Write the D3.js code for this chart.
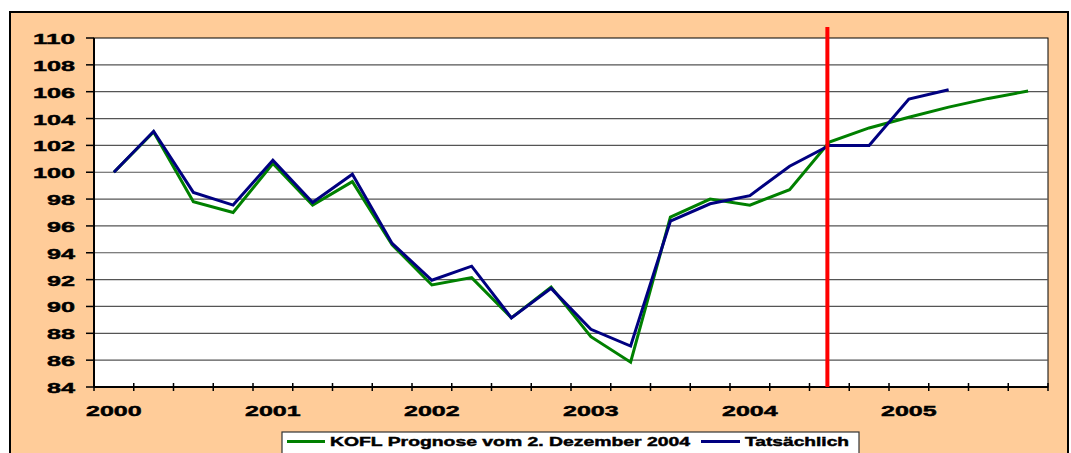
<!DOCTYPE html>
<html>
<head>
<meta charset="utf-8">
<script src="https://cdn.jsdelivr.net/npm/d3@7"></script>
<style>
  body { margin: 0; background: #fff; }
  text { font-family: "Liberation Sans", Arial, sans-serif; font-weight: bold; fill: #000; stroke: #000; stroke-width: 0.45px; }
</style>
</head>
<body>
<svg id="chart"></svg>
<script>
// quarters 2000Q1 .. 2005Q4
const years = ["2000", "2001", "2002", "2003", "2004", "2005"];
const quarters = years.flatMap(y => ["Q1", "Q2", "Q3", "Q4"].map(q => y + q));
const yTicks = [84, 86, 88, 90, 92, 94, 96, 98, 100, 102, 104, 106, 108, 110];

// KOFL forecast of 2 Dec 2004 (green)
const prognose = [100, 103, 97.8, 97.0, 100.65, 97.55, 99.3, 94.6, 91.6, 92.15, 89.15, 91.45,
                  87.75, 85.85, 96.65, 98.0, 97.55, 98.7, 102.25, 103.3, 104.1, 104.85, 105.5, 106.05];
// actual values (navy)
const tatsaechlich = [100, 103.05, 98.5, 97.55, 100.9, 97.75, 99.85, 94.7, 91.95, 93.0, 89.15, 91.35,
                      88.3, 87.05, 96.35, 97.65, 98.25, 100.45, 102.0, 102.0, 105.45, 106.15];
// forecast date marker (quarter index)
const markerQuarter = "2004Q3";

const seriesNames = ["KOFL Prognose vom 2. Dezember 2004", "Tatsächlich"];
const seriesColors = ["#008000", "#000080"];

const width = 1071, height = 453;
const plot = { left: 94, right: 1048, top: 38, bottom: 387 };

const svg = d3.select("#chart").attr("width", width).attr("height", height);

// outer frame
svg.append("rect")
    .attr("x", 10).attr("y", 12)
    .attr("width", 1058).attr("height", 470)
    .attr("fill", "#FFCC99")
    .attr("stroke", "#000").attr("stroke-width", 2);

const x = d3.scaleBand().domain(quarters).range([plot.left, plot.right]).padding(0);
const y = d3.scaleLinear().domain([84, 110]).range([plot.bottom, plot.top]);
const cx = q => x(q) + x.bandwidth() / 2;

// plot area
svg.append("rect")
    .attr("x", plot.left).attr("y", plot.top)
    .attr("width", plot.right - plot.left).attr("height", plot.bottom - plot.top)
    .attr("fill", "#fff")
    .attr("stroke", "#000").attr("stroke-width", 1);

// gridlines
svg.append("g").selectAll("line")
    .data(yTicks.filter(v => v > 84 && v < 110))
    .join("line")
    .attr("x1", plot.left).attr("x2", plot.right)
    .attr("y1", d => y(d)).attr("y2", d => y(d))
    .attr("stroke", "#555").attr("stroke-width", 1.2);

// y axis ticks + labels
const yAxis = svg.append("g");
yAxis.selectAll("line")
    .data(yTicks).join("line")
    .attr("x1", plot.left - 8).attr("x2", plot.left)
    .attr("y1", d => y(d)).attr("y2", d => y(d))
    .attr("stroke", "#000").attr("stroke-width", 1.5);
yAxis.selectAll("text")
    .data(yTicks).join("text")
    .attr("x", 75).attr("y", d => y(d) + 6)
    .attr("text-anchor", "end")
    .style("font-size", "15px")
    .attr("textLength", d => String(d).length * 14)
    .attr("lengthAdjust", "spacingAndGlyphs")
    .text(d => d);

// x axis ticks at quarter boundaries
const bounds = quarters.map(q => x(q)).concat([plot.right]);
svg.append("g").selectAll("line")
    .data(bounds).join("line")
    .attr("x1", d => d).attr("x2", d => d)
    .attr("y1", plot.bottom - 4).attr("y2", plot.bottom + 4)
    .attr("stroke", "#000").attr("stroke-width", 1.5);

// year labels under each Q1
svg.append("g").selectAll("text")
    .data(quarters.filter(q => q.endsWith("Q1")))
    .join("text")
    .attr("x", d => cx(d) - 27.8).attr("y", 415.5)
    .style("font-size", "15px")
    .attr("textLength", 55.6)
    .attr("lengthAdjust", "spacingAndGlyphs")
    .text(d => d.slice(0, 4));

// axis lines
svg.append("line")
    .attr("x1", plot.left).attr("x2", plot.left)
    .attr("y1", plot.top).attr("y2", plot.bottom)
    .attr("stroke", "#000").attr("stroke-width", 2);
svg.append("line")
    .attr("x1", plot.left).attr("x2", plot.right)
    .attr("y1", plot.bottom).attr("y2", plot.bottom)
    .attr("stroke", "#000").attr("stroke-width", 2);

// series lines
const line = d3.line()
    .x((d, i) => cx(quarters[i]))
    .y(d => y(d));

[prognose, tatsaechlich].forEach((s, k) => {
    svg.append("path")
        .datum(s)
        .attr("d", line)
        .attr("fill", "none")
        .attr("stroke", seriesColors[k])
        .attr("stroke-width", 3)
        .attr("stroke-linejoin", "miter");
});

// red marker line
svg.append("line")
    .attr("x1", cx(markerQuarter) - 2).attr("x2", cx(markerQuarter) - 2)
    .attr("y1", 27).attr("y2", plot.bottom)
    .attr("stroke", "#FF0000").attr("stroke-width", 4);

// legend
const legend = svg.append("g");
legend.append("rect")
    .attr("x", 282).attr("y", 432)
    .attr("width", 577).attr("height", 30)
    .attr("fill", "#fff")
    .attr("stroke", "#333").attr("stroke-width", 1.2);

const legItems = [
    { x0: 287, x1: 325, tx: 330, tl: 360 },
    { x0: 701, x1: 740, tx: 745, tl: 104 }
];
legItems.forEach((it, k) => {
    legend.append("line")
        .attr("x1", it.x0).attr("x2", it.x1)
        .attr("y1", 441.5).attr("y2", 441.5)
        .attr("stroke", seriesColors[k]).attr("stroke-width", 3);
    legend.append("text")
        .attr("x", it.tx).attr("y", 446)
        .style("font-size", "13px")
        .attr("textLength", it.tl)
        .attr("lengthAdjust", "spacingAndGlyphs")
        .text(seriesNames[k]);
});
</script>
</body>
</html>
